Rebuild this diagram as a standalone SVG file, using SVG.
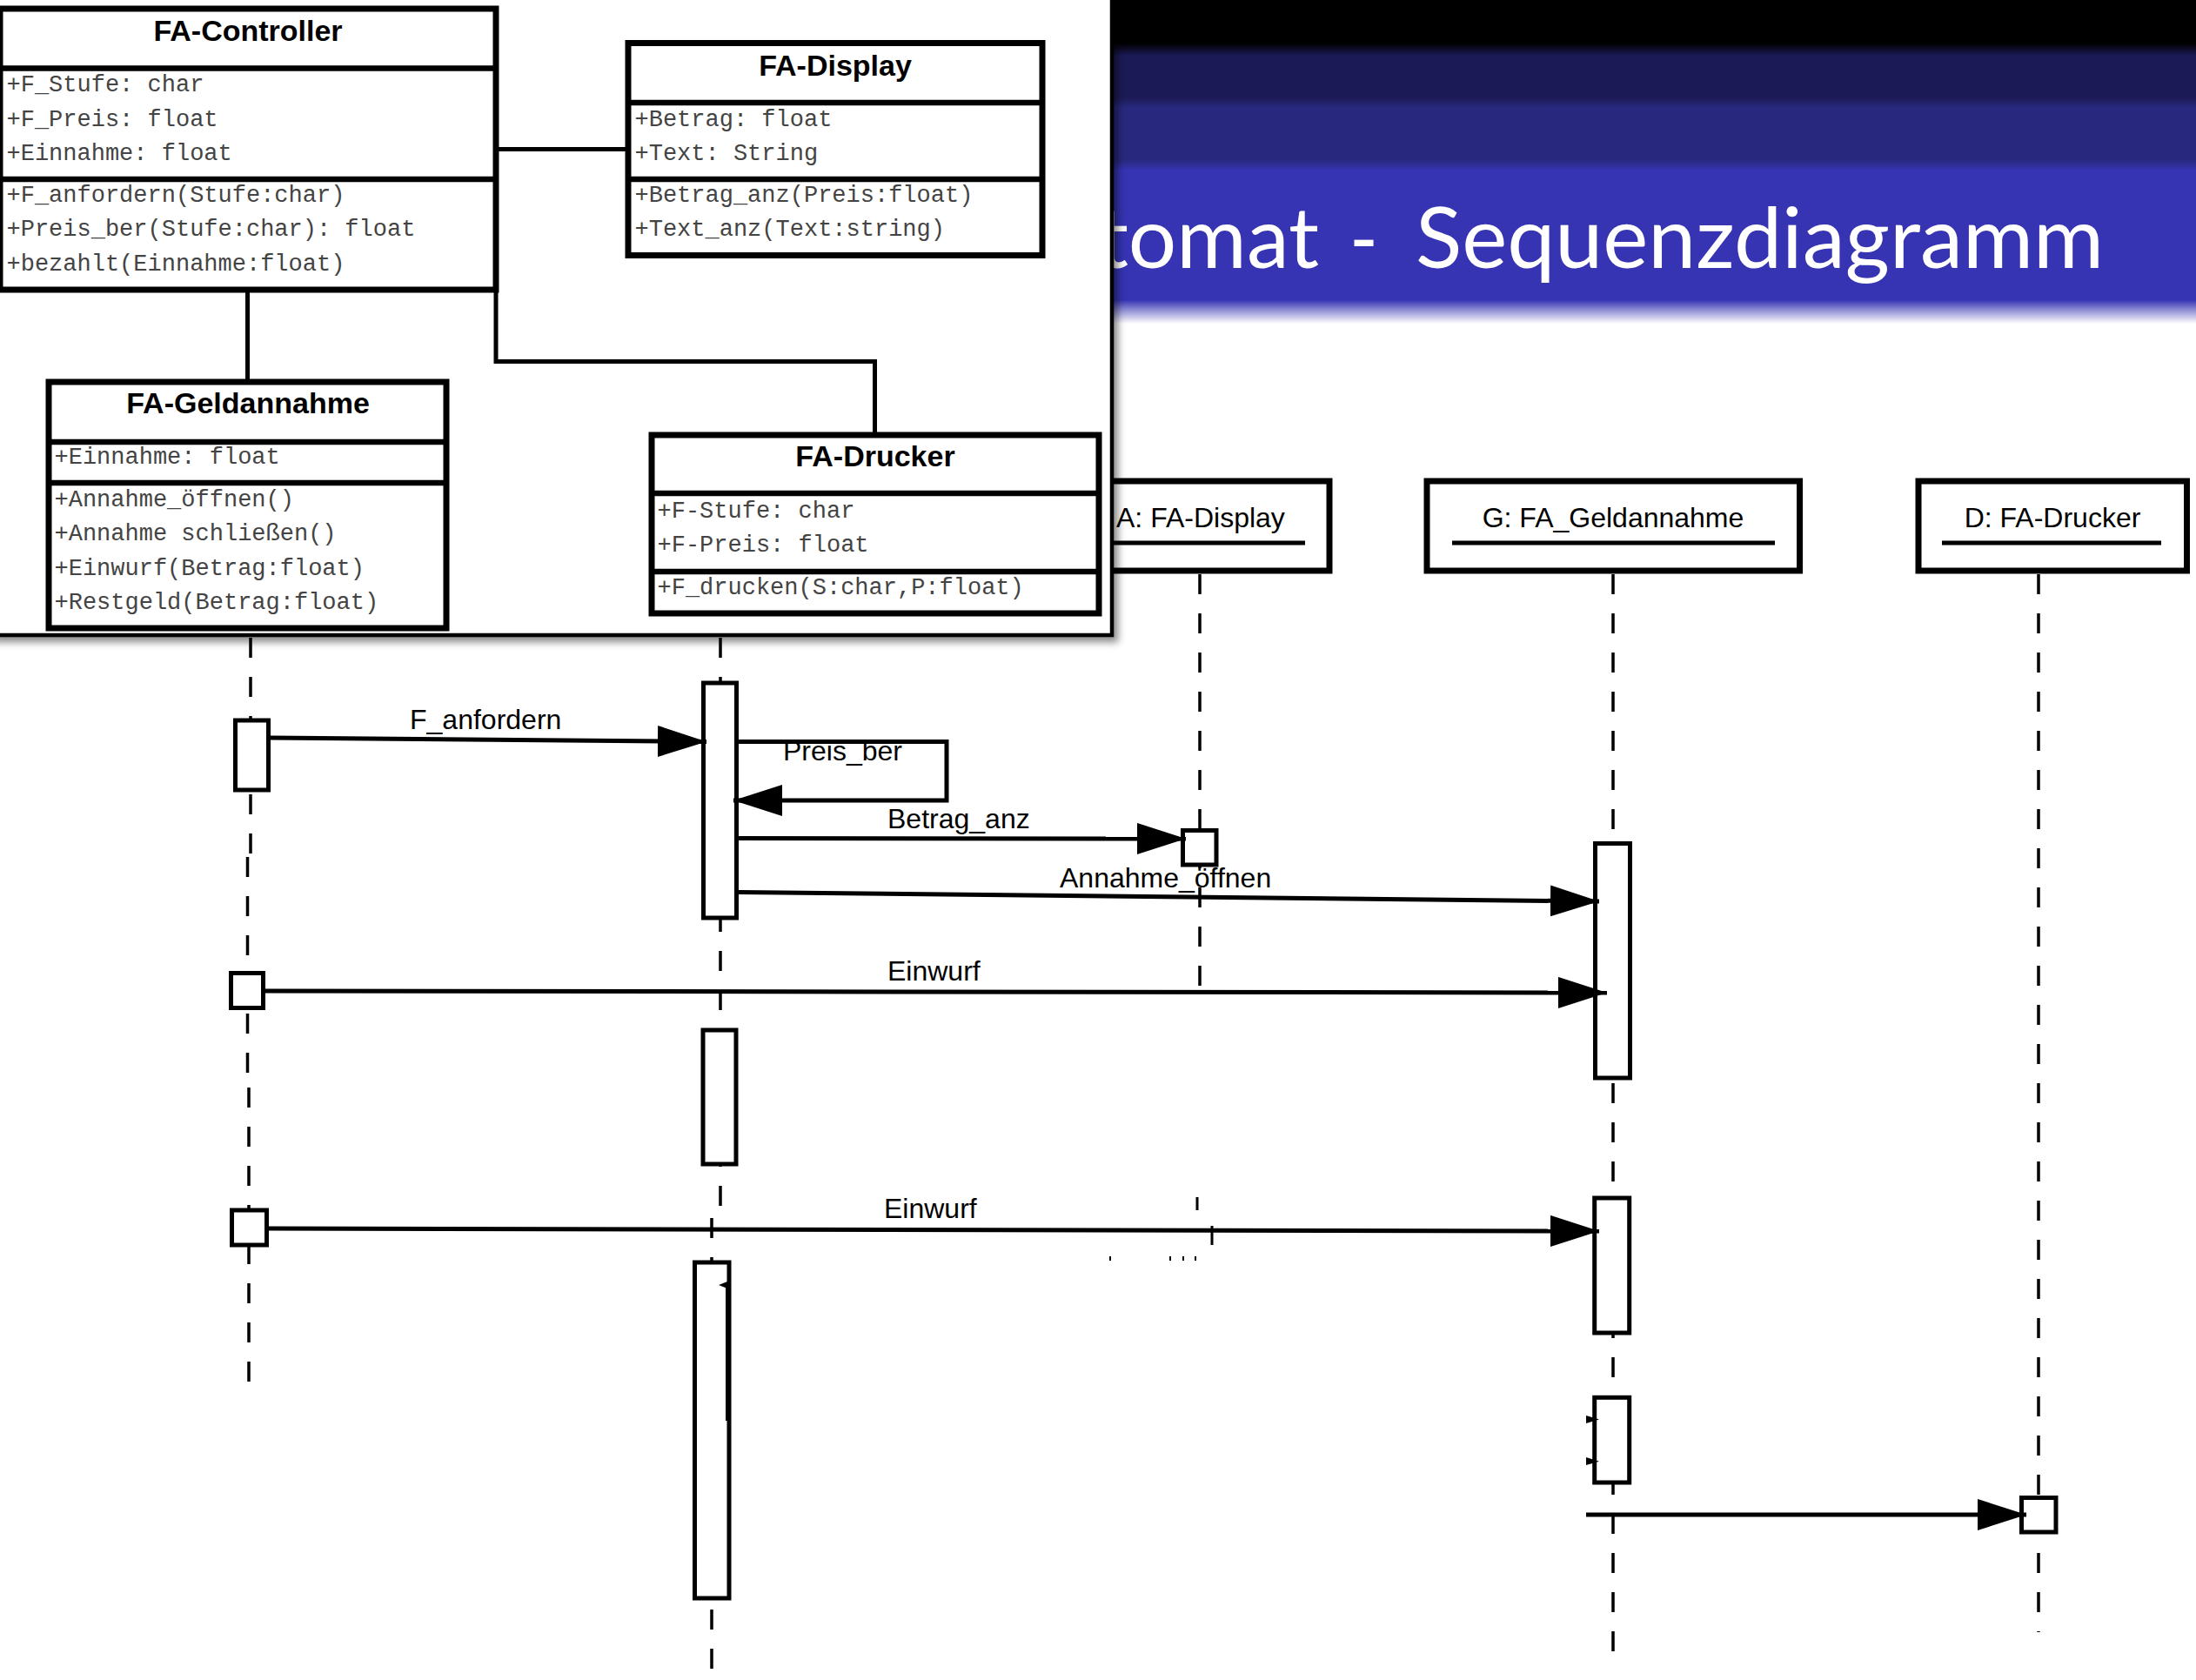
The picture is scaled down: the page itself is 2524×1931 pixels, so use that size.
<svg xmlns="http://www.w3.org/2000/svg" width="2524" height="1931" viewBox="0 0 2524 1931">
<defs>
<style>
.box{fill:#fff;stroke:#000;stroke-width:7}
.div{stroke:#000;stroke-width:6.5}
.title{font-family:"Liberation Sans",Arial,sans-serif;font-weight:bold;font-size:34px;text-anchor:middle;fill:#000}
.mono{font-family:"Liberation Mono","Courier New",monospace;font-size:27px;fill:#444}
.assoc{stroke:#000;stroke-width:5;fill:none}
.head{fill:#fff;stroke:#000;stroke-width:7}
.hlabel{font-family:"Liberation Sans",Arial,sans-serif;font-size:32px;fill:#000}
.mid{text-anchor:middle}
.uline{stroke:#000;stroke-width:5}
.life{stroke:#000;stroke-width:3.5;stroke-dasharray:23 22;fill:none}
.act{fill:#fff;stroke:#000;stroke-width:5}
.msg{stroke:#000;stroke-width:5;fill:none;marker-end:url(#ah)}
.mlabel{font-family:"Liberation Sans",Arial,sans-serif;font-size:32px;fill:#000}
.tick{stroke:#000;stroke-width:3;fill:none}
.ttl{font-family:Lato,"Open Sans",sans-serif;font-size:96px;fill:#fff}
</style>
<linearGradient id="hdr" x1="0" y1="0" x2="0" y2="372" gradientUnits="userSpaceOnUse">
<stop offset="0" stop-color="#000"/>
<stop offset="0.134" stop-color="#000"/>
<stop offset="0.172" stop-color="#1c1a56"/>
<stop offset="0.301" stop-color="#1c1a56"/>
<stop offset="0.333" stop-color="#28287f"/>
<stop offset="0.495" stop-color="#28287f"/>
<stop offset="0.527" stop-color="#3634b3"/>
<stop offset="0.927" stop-color="#3634b3"/>
<stop offset="0.957" stop-color="#8c8bd4"/>
<stop offset="1" stop-color="#fff"/>
</linearGradient>
<marker id="ah" viewBox="0 0 56 36" refX="56" refY="18" markerWidth="56" markerHeight="36" markerUnits="userSpaceOnUse" orient="auto">
<path d="M0,0 L56,18 L0,36 Z" fill="#000"/>
</marker>
<filter id="sh" x="-5%" y="-5%" width="115%" height="115%">
<feDropShadow dx="5" dy="6" stdDeviation="4" flood-color="#000" flood-opacity="0.45"/>
</filter>
</defs>

<rect width="2524" height="1931" fill="#fff"/>

<g id="header">
<rect x="0" y="0" width="2524" height="372" fill="url(#hdr)"/>
<text class="ttl" y="308"><tspan x="1262" textLength="254" lengthAdjust="spacingAndGlyphs">tomat</tspan> <tspan x="1551" textLength="33" lengthAdjust="spacingAndGlyphs">-</tspan> <tspan x="1627" textLength="791" lengthAdjust="spacingAndGlyphs">Sequenzdiagramm</tspan></text>
</g>

<g id="lifelines">
<path class="life" d="M288,733 V985 M284.5,985 V1250 M286,1250 V1592"/>
<path class="life" d="M828,733 V1400 M818,1400 V1931"/>
<path class="life" d="M1379,660 V1155"/>
<path class="life" d="M1854,660 V1915"/>
<path class="life" d="M2343,660 V1876"/>
<path class="tick" d="M1376,1376 V1391 M1393,1409 V1431"/>
<path stroke="#000" stroke-width="2" d="M1276,1444 V1449 M1345,1444 V1449 M1360,1444 V1449 M1374,1444 V1449"/>
</g>

<g id="obj-display">
<rect class="head" x="1230" y="553" width="298" height="103"/>
<text class="hlabel" x="1283" y="605.5">A: FA-Display</text>
<line class="uline" x1="1258" y1="624" x2="1500" y2="624"/>
</g>
<g id="obj-geldannahme">
<rect class="head" x="1640" y="553" width="428.5" height="103"/>
<text class="hlabel mid" x="1854" y="605.5">G: FA_Geldannahme</text>
<line class="uline" x1="1669" y1="624" x2="2040" y2="624"/>
</g>
<g id="obj-drucker">
<rect class="head" x="2205" y="553" width="308.5" height="103"/>
<text class="hlabel mid" x="2359" y="605.5">D: FA-Drucker</text>
<line class="uline" x1="2232" y1="624" x2="2484" y2="624"/>
</g>

<g id="activations">
<rect class="act" x="270.5" y="828" width="38" height="80"/>
<rect class="act" x="265.5" y="1118.5" width="37" height="40"/>
<rect class="act" x="266.5" y="1391" width="40" height="40"/>
<rect class="act" x="808.5" y="785" width="38" height="270"/>
<rect class="act" x="808" y="1184" width="38" height="154"/>
<rect class="act" x="798.5" y="1451" width="39.5" height="386"/>
<path d="M826,1477 L836,1473 L836,1481 Z" fill="#000"/>
<line x1="835" y1="1476" x2="835" y2="1633" stroke="#000" stroke-width="2"/>
<rect class="act" x="1359.5" y="954.5" width="38.5" height="39.5"/>
<rect class="act" x="1833.5" y="969.5" width="40" height="269.5"/>
<rect class="act" x="1832.7" y="1377" width="40" height="155"/>
<rect class="act" x="1832.7" y="1606.3" width="40" height="97.7"/>
<path d="M1823,1627 L1838,1631.5 L1823,1636 Z M1823,1675 L1838,1679.7 L1823,1684 Z" fill="#000"/>
<rect class="act" x="2323.5" y="1721.5" width="39.5" height="39.5"/>
</g>

<g id="messages">
<path class="msg" d="M311,848 L812,852.5"/>
<text class="mlabel" x="471" y="838">F_anfordern</text>
<text class="mlabel" x="900" y="874">Preis_ber</text>
<path class="msg" d="M849,852.5 H1088 V920 H843"/>
<path class="msg" d="M849,963.5 L1363,964"/>
<text class="mlabel" x="1020" y="951.5">Betrag_anz</text>
<path class="msg" d="M849,1025.5 L1838,1036"/>
<text class="mlabel" x="1218" y="1019.5">Annahme_öffnen</text>
<path class="msg" d="M303,1139 L1847,1141"/>
<text class="mlabel" x="1020" y="1127">Einwurf</text>
<path class="msg" d="M307,1412 L1838,1415"/>
<text class="mlabel" x="1016" y="1400">Einwurf</text>
<path class="msg" d="M1823,1741 L2329,1741"/>
</g>

<g id="class-overlay">
<rect x="-10" y="-10" width="1288" height="740" fill="#fff" stroke="#000" stroke-width="4.5" filter="url(#sh)"/>

<g id="uml-connectors">
<line class="assoc" x1="570" y1="171.5" x2="722" y2="171.5"/>
<line class="assoc" x1="284.5" y1="333" x2="284.5" y2="439"/>
<path class="assoc" d="M570,333 V415.5 H1005.5 V500"/>
</g>

<g id="cls-controller">
<rect class="box" x="0" y="10" width="570" height="323"/>
<line class="div" x1="0" y1="78.5" x2="570" y2="78.5"/>
<line class="div" x1="0" y1="206" x2="570" y2="206"/>
<text class="title" x="285" y="47">FA-Controller</text>
<text class="mono" x="7.5" y="105">+F_Stufe: char</text>
<text class="mono" x="7.5" y="144.7">+F_Preis: float</text>
<text class="mono" x="7.5" y="183.7">+Einnahme: float</text>
<text class="mono" x="7.5" y="231.5">+F_anfordern(Stufe:char)</text>
<text class="mono" x="7.5" y="271">+Preis_ber(Stufe:char): float</text>
<text class="mono" x="7.5" y="310.7">+bezahlt(Einnahme:float)</text>
</g>

<g id="cls-display">
<rect class="box" x="722" y="49.5" width="476" height="244"/>
<line class="div" x1="722" y1="118" x2="1198" y2="118"/>
<line class="div" x1="722" y1="206" x2="1198" y2="206"/>
<text class="title" x="960" y="87.3">FA-Display</text>
<text class="mono" x="729.5" y="144.7">+Betrag: float</text>
<text class="mono" x="729.5" y="183.7">+Text: String</text>
<text class="mono" x="729.5" y="231.5">+Betrag_anz(Preis:float)</text>
<text class="mono" x="729.5" y="271">+Text_anz(Text:string)</text>
</g>

<g id="cls-geldannahme">
<rect class="box" x="56" y="439" width="457" height="283"/>
<line class="div" x1="56" y1="508" x2="513" y2="508"/>
<line class="div" x1="56" y1="555" x2="513" y2="555"/>
<text class="title" x="285" y="474.6">FA-Geldannahme</text>
<text class="mono" x="62.5" y="532.7">+Einnahme: float</text>
<text class="mono" x="62.5" y="581.7">+Annahme_öffnen()</text>
<text class="mono" x="62.5" y="621.2">+Annahme schließen()</text>
<text class="mono" x="62.5" y="660.7">+Einwurf(Betrag:float)</text>
<text class="mono" x="62.5" y="700.2">+Restgeld(Betrag:float)</text>
</g>

<g id="cls-drucker">
<rect class="box" x="749" y="500" width="514" height="205"/>
<line class="div" x1="749" y1="567" x2="1263" y2="567"/>
<line class="div" x1="749" y1="657" x2="1263" y2="657"/>
<text class="title" x="1006" y="535.8">FA-Drucker</text>
<text class="mono" x="755.5" y="595">+F-Stufe: char</text>
<text class="mono" x="755.5" y="634.4">+F-Preis: float</text>
<text class="mono" x="755.5" y="683">+F_drucken(S:char,P:float)</text>
</g>
</g>
</svg>
